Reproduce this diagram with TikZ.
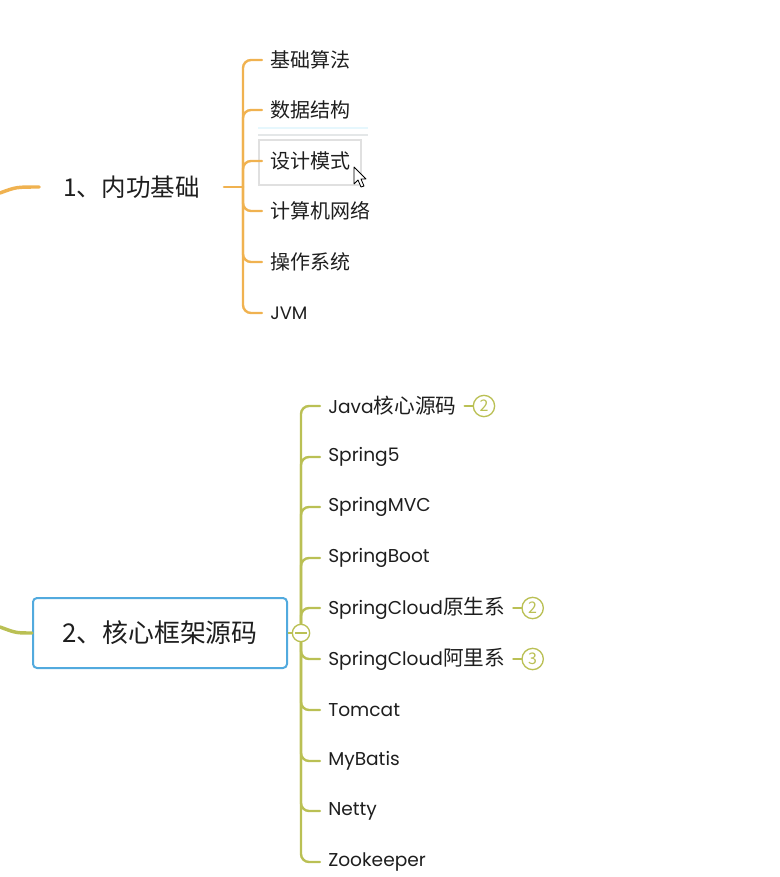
\documentclass[tikz,border=0pt]{standalone}
\usepackage{fontspec}
\setmainfont{Noto Sans CJK SC}
\newfontfamily\latinfont[Scale=0.9]{Poppins}
\usetikzlibrary{positioning}

\definecolor{branchorange}{RGB}{240,178,80}
\definecolor{brancholive}{RGB}{186,192,84}
\definecolor{boxblue}{RGB}{82,170,222}
\definecolor{inktext}{RGB}{30,30,30}

\begin{document}
\begin{tikzpicture}[x=0.75pt, y=-0.75pt,
  topicA/.style={inner xsep=18pt, inner ysep=4pt, text=inktext, font=\fontsize{18.4}{22}\selectfont},
  topicB/.style={draw=boxblue, line width=1.5pt, rounded corners=3pt, fill=white, text=inktext,
    minimum width=190.5pt, minimum height=52.5pt, font=\fontsize{19.4}{24}\selectfont},
  leafA/.style={anchor=west, inner xsep=6pt, inner ysep=2pt, text=inktext, font=\fontsize{15}{18}\selectfont},
  leafB/.style={anchor=west, inner xsep=6pt, inner ysep=2pt, text=inktext, font=\fontsize{15.5}{19}\selectfont},
  badge/.style={circle, draw=brancholive, line width=1pt, fill=white, text=brancholive,
    minimum size=16pt, inner sep=0pt, font=\fontsize{12}{13}\selectfont},
  collapse/.style={circle, draw=brancholive, line width=1pt, fill=white, minimum size=13pt, inner sep=0pt},
  orangeedge/.style={draw=branchorange, line width=1.8pt, line cap=round, rounded corners=6pt},
  oliveedge/.style={draw=brancholive, line width=1.8pt, line cap=round, rounded corners=6pt},
  mainorange/.style={draw=branchorange, line width=2.6pt, line cap=round},
  mainolive/.style={draw=brancholive, line width=2.6pt, line cap=round},
  selbox/.style={draw=black!12, line width=1.8pt}
]
\useasboundingbox (0,0) rectangle (779,877);

\draw[draw=cyan!10, line width=1.5pt] (258,128) -- (368,128);
\draw[draw=cyan!15!black!12, line width=2pt] (258,135) -- (368,135);
\draw[selbox] (259,140) rectangle (361,185);

\node[topicA] (p1) at (131.5,187) {1、内功基础};
\coordinate (oin) at (0,193);
\coordinate (ohub) at (243,187);
\draw[mainorange] (oin) .. controls (16,187) .. (p1.west);
\draw[orangeedge] (p1.east) -- (ohub);

\node[leafA] (oc1) at (262,60) {基础算法};
\node[leafA] (oc2) at (262,110) {数据结构};
\node[leafA] (oc3) at (262,161) {设计模式};
\node[leafA] (oc4) at (262,211) {计算机网络};
\node[leafA] (oc5) at (262,262) {操作系统};
\node[leafA] (oc6) at (262,313) {{\latinfont JVM}};
\draw[orangeedge] (ohub) |- (oc1.west);
\draw[orangeedge] (ohub) |- (oc2.west);
\draw[orangeedge] (ohub) |- (oc3.west);
\draw[orangeedge] (ohub) |- (oc4.west);
\draw[orangeedge] (ohub) |- (oc5.west);
\draw[orangeedge] (ohub) |- (oc6.west);

\draw[fill=white, draw=black, line width=0.6pt, line join=round]
  (354,167) -- (354,184) -- (358,180) -- (361,187) -- (364,186) -- (361,179) -- (366,179) -- cycle;

\node[topicB] (p2) at (160,633) {2、核心框架源码};
\coordinate (gin) at (0,627);
\draw[mainolive] (gin) .. controls (16,633) .. (p2.west);
\node[collapse] (gk) at (301,633) {};
\draw[draw=brancholive, line width=1.8pt] (p2.east) -- (gk.west);
\draw[draw=brancholive, line width=1pt] ([xshift=-4.5pt]gk.center) -- ([xshift=4.5pt]gk.center);

\node[leafB] (gc1) at (320,406) {{\latinfont Java}核心源码};
\node[leafB] (gc2) at (320,457) {\latinfont Spring5};
\node[leafB] (gc3) at (320,507) {\latinfont SpringMVC};
\node[leafB] (gc4) at (320,558) {\latinfont SpringBoot};
\node[leafB] (gc5) at (320,608) {{\latinfont SpringCloud}原生系};
\node[leafB] (gc6) at (320,659) {{\latinfont SpringCloud}阿里系};
\node[leafB] (gc7) at (320,710) {\latinfont Tomcat};
\node[leafB] (gc8) at (320,761) {\latinfont MyBatis};
\node[leafB] (gc9) at (320,811) {\latinfont Netty};
\node[leafB] (gc10) at (320,862) {\latinfont Zookeeper};
\draw[oliveedge] (gk.north) |- (gc1.west);
\draw[oliveedge] (gk.north) |- (gc2.west);
\draw[oliveedge] (gk.north) |- (gc3.west);
\draw[oliveedge] (gk.north) |- (gc4.west);
\draw[oliveedge] (gk.north) |- (gc5.west);
\draw[oliveedge] (gk.south) |- (gc6.west);
\draw[oliveedge] (gk.south) |- (gc7.west);
\draw[oliveedge] (gk.south) |- (gc8.west);
\draw[oliveedge] (gk.south) |- (gc9.west);
\draw[oliveedge] (gk.south) |- (gc10.west);

\node[badge, right=6pt of gc1] (b1) {2};
\node[badge, right=6pt of gc5] (b2) {2};
\node[badge, right=6pt of gc6] (b3) {3};
\draw[oliveedge] (gc1.east) -- (b1.west);
\draw[oliveedge] (gc5.east) -- (b2.west);
\draw[oliveedge] (gc6.east) -- (b3.west);

\end{tikzpicture}
\end{document}
